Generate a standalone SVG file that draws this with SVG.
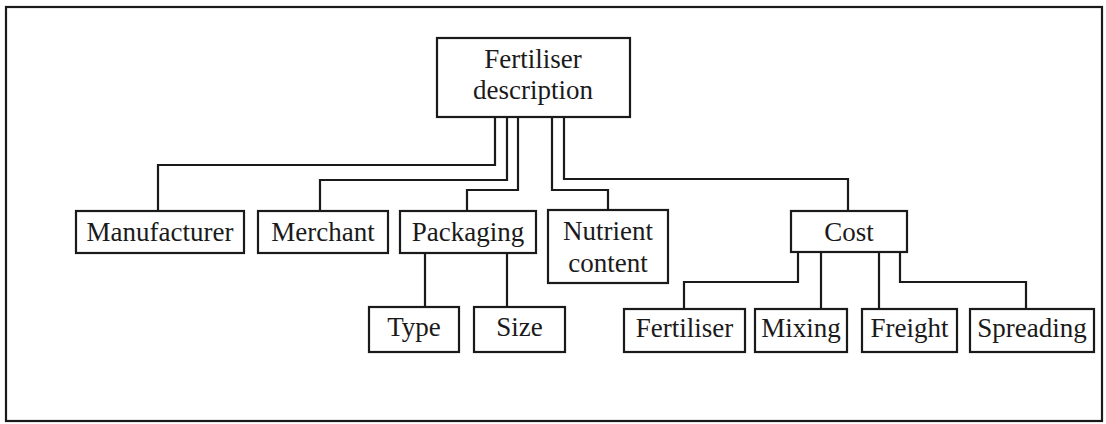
<svg xmlns="http://www.w3.org/2000/svg" width="1106" height="424" viewBox="0 0 1106 424">
<style>
.box{fill:#fff;stroke:#1a1a1a;stroke-width:2.2}
.lbl{font-family:"Liberation Serif","Times New Roman",serif;font-size:27px;fill:#1a1a1a;text-anchor:middle}
.con{fill:none;stroke:#1a1a1a;stroke-width:2.2}
</style>
<rect x="0" y="0" width="1106" height="424" fill="#fff"/>
<rect x="6" y="7" width="1096" height="414" fill="none" stroke="#1a1a1a" stroke-width="2.2"/>
<g id="connectors">
<polyline class="con" points="495,117 495,165 158,165 158,211"/>
<polyline class="con" points="507,117 507,180 320,180 320,211"/>
<polyline class="con" points="518,117 518,190 467,190 467,211"/>
<polyline class="con" points="552,117 552,190 608,190 608,210"/>
<polyline class="con" points="564,117 564,179 848,179 848,211"/>
<polyline class="con" points="425,253 425,307"/>
<polyline class="con" points="507,253 507,307"/>
<polyline class="con" points="798,252 798,282 684,282 684,309"/>
<polyline class="con" points="821,252 821,309"/>
<polyline class="con" points="879,252 879,309"/>
<polyline class="con" points="900,252 900,282 1026,282 1026,309"/>
</g>
<g id="root"><rect class="box" x="437" y="38" width="193" height="79"/><text class="lbl" x="533" y="68">Fertiliser</text><text class="lbl" x="533" y="99">description</text></g>
<g id="manufacturer"><rect class="box" x="76" y="211" width="168" height="42"/><text class="lbl" x="160" y="241">Manufacturer</text></g>
<g id="merchant"><rect class="box" x="258" y="211" width="130" height="42"/><text class="lbl" x="323" y="241">Merchant</text></g>
<g id="packaging"><rect class="box" x="400" y="211" width="136" height="42"/><text class="lbl" x="468" y="241">Packaging</text></g>
<g id="nutrient"><rect class="box" x="548" y="210" width="120" height="73"/><text class="lbl" x="608" y="240">Nutrient</text><text class="lbl" x="608" y="272">content</text></g>
<g id="cost"><rect class="box" x="791" y="211" width="116" height="41"/><text class="lbl" x="849" y="241">Cost</text></g>
<g id="type"><rect class="box" x="369" y="307" width="90" height="45"/><text class="lbl" x="414" y="336">Type</text></g>
<g id="size"><rect class="box" x="474" y="307" width="91" height="45"/><text class="lbl" x="519.5" y="336">Size</text></g>
<g id="fertiliser"><rect class="box" x="624" y="309" width="121" height="43"/><text class="lbl" x="684.5" y="337">Fertiliser</text></g>
<g id="mixing"><rect class="box" x="755" y="309" width="92" height="43"/><text class="lbl" x="801" y="337">Mixing</text></g>
<g id="freight"><rect class="box" x="862" y="309" width="95" height="43"/><text class="lbl" x="909.5" y="337">Freight</text></g>
<g id="spreading"><rect class="box" x="970" y="309" width="124" height="43"/><text class="lbl" x="1032" y="337">Spreading</text></g>
</svg>
